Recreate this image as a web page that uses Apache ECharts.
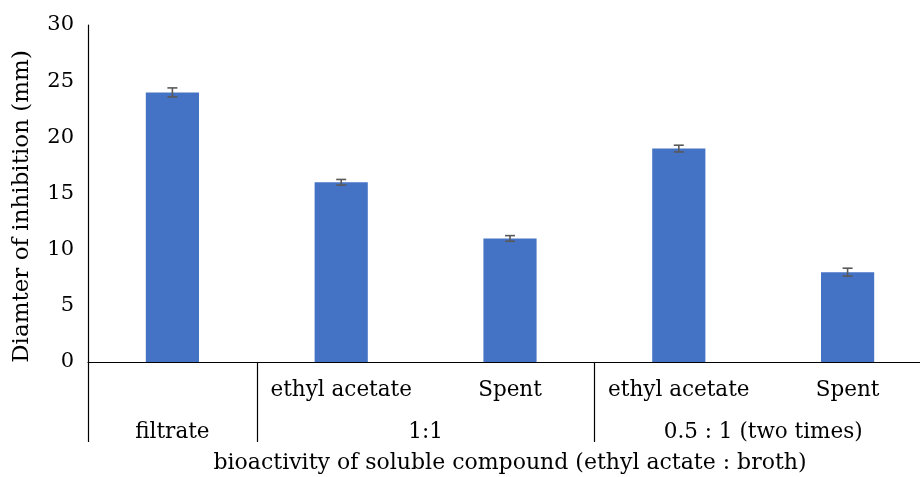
<!DOCTYPE html>
<html>
<head>
<meta charset="utf-8">
<script src="https://cdn.jsdelivr.net/npm/echarts@6/dist/echarts.min.js"></script>
<style>
  html, body { margin: 0; padding: 0; background: #fff; }
  #chart { width: 920px; height: 477px; }
</style>
</head>
<body>
<div id="chart"></div>
<script>
// Inhibition zone diameters (mm) with error margins
const categories = ['filtrate', 'ethyl acetate', 'Spent', 'ethyl acetate', 'Spent'];
const subLabels = ['', 'ethyl acetate', 'Spent', 'ethyl acetate', 'Spent'];
const groupLabels = ['filtrate', '1:1', '0.5 : 1 (two times)'];
const groupCenters = [0.5, 2, 4];     // position of each group label along the category span
const groupBoundaries = [0, 1, 3];    // category indices where a group starts
const values = [24, 16, 11, 19, 8];
const errors = [0.4, 0.25, 0.25, 0.3, 0.35];
const yTicks = [0, 5, 10, 15, 20, 25, 30];

const FONT = 'DejaVu Serif';

const errorData = values.map((v, i) => [i, v - errors[i], v + errors[i]]);

const chart = echarts.init(document.getElementById('chart'));
chart.setOption({
  animation: false,
  grid: {
    left: 88, top: 25, width: 844, height: 337,
    containLabel: false,
    outerBoundsMode: 'none'
  },
  xAxis: [
    {
      type: 'category',
      data: categories,
      boundaryGap: true,
      axisLine: { show: true, lineStyle: { color: '#000', width: 1.2 } },
      axisTick: {
        show: true,
        length: 80,
        lineStyle: { color: '#000', width: 1.2 },
        interval: (idx) => groupBoundaries.includes(idx)
      },
      axisLabel: {
        margin: 17,
        fontFamily: FONT, fontSize: 21.5, color: '#000',
        interval: 0,
        formatter: (val, idx) => subLabels[idx]
      },
      name: 'bioactivity of soluble compound (ethyl actate : broth)',
      nameLocation: 'middle',
      nameGap: 90,
      nameTextStyle: { fontFamily: FONT, fontSize: 22, color: '#000' }
    },
    {
      type: 'value',
      position: 'bottom',
      min: 0, max: 5, interval: 0.5,
      axisLine: { show: false },
      axisTick: { show: false },
      splitLine: { show: false },
      axisLabel: {
        margin: 59,
        fontFamily: FONT, fontSize: 21.5, color: '#000',
        showMinLabel: true, showMaxLabel: true,
        formatter: (v) => {
          const k = groupCenters.findIndex(c => Math.abs(c - v) < 1e-6);
          return k >= 0 ? groupLabels[k] : '';
        }
      }
    }
  ],
  yAxis: {
    type: 'value',
    min: yTicks[0], max: yTicks[yTicks.length - 1], interval: 5,
    axisLine: { show: true, lineStyle: { color: '#000', width: 1.2 } },
    axisTick: { show: false },
    splitLine: { show: false },
    axisLabel: { margin: 14, fontFamily: FONT, fontSize: 21, color: '#000' },
    name: 'Diamter of inhibition (mm)',
    nameLocation: 'middle',
    nameRotate: 90,
    nameGap: 54,
    nameTextStyle: { fontFamily: FONT, fontSize: 23, color: '#000', padding: [0, 26, 0, 0] }
  },
  series: [
    {
      type: 'bar',
      xAxisIndex: 0,
      data: values,
      barWidth: '31.5%',
      itemStyle: { color: '#4472C4' }
    },
    {
      type: 'custom',
      xAxisIndex: 0,
      data: errorData,
      z: 10,
      renderItem: (params, api) => {
        const x = api.value(0);
        const lo = api.coord([x, api.value(1)]);
        const hi = api.coord([x, api.value(2)]);
        const half = 5;
        const style = { stroke: '#595959', lineWidth: 1.6 };
        return {
          type: 'group',
          children: [
            { type: 'line', shape: { x1: lo[0], y1: lo[1], x2: hi[0], y2: hi[1] }, style },
            { type: 'line', shape: { x1: lo[0] - half, y1: lo[1], x2: lo[0] + half, y2: lo[1] }, style },
            { type: 'line', shape: { x1: hi[0] - half, y1: hi[1], x2: hi[0] + half, y2: hi[1] }, style }
          ]
        };
      }
    }
  ]
});
</script>
</body>
</html>
